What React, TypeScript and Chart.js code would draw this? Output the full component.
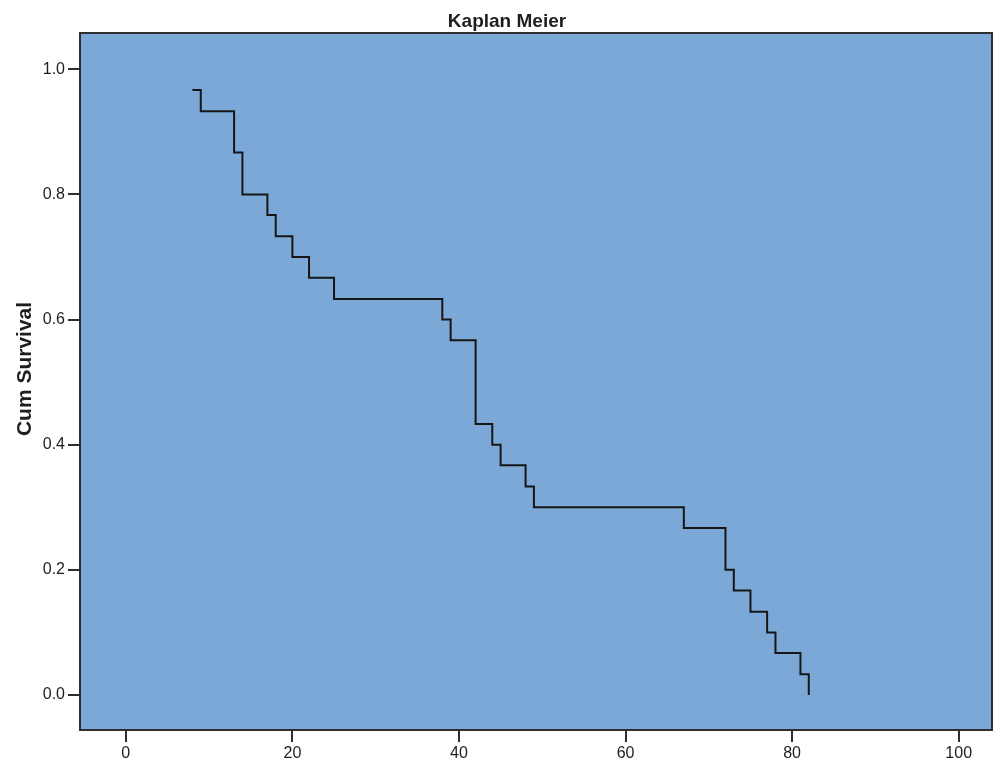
import React, { useEffect, useRef } from 'react';
import { Chart, registerables } from 'chart.js';

Chart.register(...registerables);

// Kaplan-Meier step points: event times and cumulative survival after each event
const times = [8, 9, 13, 14, 17, 18, 20, 22, 25, 38, 39, 42, 44, 45, 48, 49, 67, 72, 73, 75, 77, 78, 81, 82];
const survival = [0.967, 0.933, 0.867, 0.8, 0.767, 0.733, 0.7, 0.667, 0.633, 0.6, 0.567, 0.433, 0.4, 0.367, 0.333, 0.3, 0.267, 0.2, 0.167, 0.133, 0.1, 0.067, 0.033, 0.0];
const xTicks = [0, 20, 40, 60, 80, 100];
const yTicks = [0, 0.2, 0.4, 0.6, 0.8, 1.0];
const chartTitle = 'Kaplan Meier';
const yLabel = 'Cum Survival';

const BG = '#7ba8d6';
const FRAME = '#2e2e2e';
const TEXT = '#1e1e1e';
const FONT = '"Liberation Sans", Arial, sans-serif';

const framePlugin = {
  id: 'frame',
  beforeDraw(chart: any) {
    const { ctx, chartArea } = chart;
    const { left, top, width, height } = chartArea;
    ctx.save();
    ctx.fillStyle = BG;
    ctx.fillRect(left, top, width, height);
    ctx.restore();
  },
  afterDraw(chart: any) {
    const { ctx, chartArea } = chart;
    const { left, top, width, height } = chartArea;
    ctx.save();
    ctx.strokeStyle = FRAME;
    ctx.lineWidth = 2;
    ctx.strokeRect(left, top, width, height);

    ctx.fillStyle = TEXT;
    ctx.font = `bold 19px ${FONT}`;
    ctx.textAlign = 'center';
    ctx.textBaseline = 'alphabetic';
    ctx.fillText(chartTitle, 507, 27);

    ctx.translate(25, 369);
    ctx.rotate(-Math.PI / 2);
    ctx.font = `bold 21px ${FONT}`;
    ctx.textBaseline = 'middle';
    ctx.fillText(yLabel, 0, 0);
    ctx.restore();
  },
};

export default function App() {
  const ref = useRef<HTMLCanvasElement | null>(null);

  useEffect(() => {
    if (!ref.current) return;
    const data = times.map((t, i) => ({ x: t, y: survival[i] }));
    const chart = new Chart(ref.current, {
      type: 'line',
      data: {
        datasets: [
          {
            data,
            stepped: 'before',
            borderColor: '#161616',
            borderWidth: 2,
            pointRadius: 0,
            fill: false,
          },
        ],
      },
      options: {
        animation: false,
        responsive: false,
        devicePixelRatio: 1,
        layout: { padding: { top: 33, right: 1, left: 0, bottom: 0 } },
        plugins: {
          legend: { display: false },
          title: { display: false },
          tooltip: { enabled: false },
        },
        scales: {
          x: {
            type: 'linear',
            min: -5.5,
            max: 104,
            afterBuildTicks: (scale: any) => {
              scale.ticks = xTicks.map((v) => ({ value: v }));
            },
            afterFit: (scale: any) => {
              scale.height = 33;
            },
            border: { display: false },
            grid: {
              drawOnChartArea: false,
              drawTicks: true,
              tickLength: 12,
              color: FRAME,
              lineWidth: 2,
            },
            ticks: {
              padding: 2,
              color: TEXT,
              font: { family: FONT, size: 16 },
              maxRotation: 0,
              callback: (v: any) => String(v),
            },
          },
          y: {
            type: 'linear',
            min: -0.056,
            max: 1.058,
            afterBuildTicks: (scale: any) => {
              scale.ticks = yTicks.map((v) => ({ value: v }));
            },
            afterFit: (scale: any) => {
              scale.width = 80;
            },
            border: { display: false },
            grid: {
              drawOnChartArea: false,
              drawTicks: true,
              tickLength: 12,
              color: FRAME,
              lineWidth: 2,
            },
            ticks: {
              padding: 3,
              color: TEXT,
              font: { family: FONT, size: 16 },
              callback: (v: any) => Number(v).toFixed(1),
            },
          },
        },
      },
      plugins: [framePlugin],
    });
    return () => chart.destroy();
  }, []);

  return (
    <canvas
      ref={ref}
      width={993}
      height={763}
      style={{ position: 'fixed', left: 0, top: 0, width: 993, height: 763, background: '#fff' }}
    />
  );
}
